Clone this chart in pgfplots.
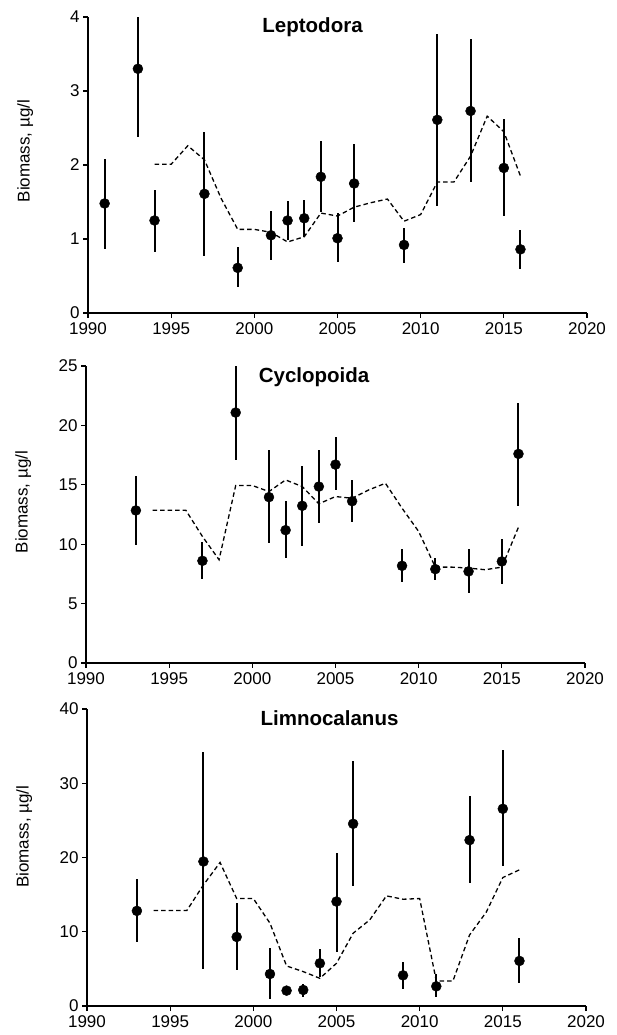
\documentclass[border=0pt]{standalone}
\usepackage{fontspec}
\setmainfont{Liberation Sans}
\usepackage{pgfplots}
\pgfplotsset{compat=1.18}
\usepackage{pgfplotstable}

\pgfplotstableread{
x y ep em
1991 1.48 0.60 0.61
1993 3.30 0.70 0.92
1994 1.25 0.41 0.43
1997 1.61 0.84 0.84
1999 0.61 0.28 0.26
2001 1.05 0.33 0.34
2002 1.25 0.27 0.26
2003 1.28 0.25 0.25
2004 1.84 0.48 0.47
2005 1.01 0.34 0.32
2006 1.75 0.53 0.52
2009 0.92 0.23 0.24
2011 2.61 1.16 1.17
2013 2.73 0.97 0.96
2015 1.96 0.66 0.65
2016 0.86 0.26 0.26
}\leptopts

\pgfplotstableread{
x y
1994 2.01
1995 2.01
1996 2.26
1997 2.07
1998 1.55
1999 1.13
2000 1.13
2001 1.09
2002 0.96
2003 1.03
2004 1.35
2005 1.31
2006 1.43
2007 1.49
2008 1.54
2009 1.24
2010 1.33
2011 1.77
2012 1.77
2013 2.12
2014 2.66
2015 2.45
2016 1.85
}\leptline

\pgfplotstableread{
x y ep em
1993 12.84 2.91 2.89
1997 8.60 1.60 1.54
1999 21.08 3.92 3.98
2001 13.96 3.98 3.90
2002 11.18 2.44 2.35
2003 13.23 3.33 3.34
2004 14.85 3.09 3.08
2005 16.70 2.30 2.18
2006 13.62 1.77 1.76
2009 8.18 1.41 1.40
2011 7.90 0.90 0.95
2013 7.71 1.88 1.82
2015 8.55 1.90 1.94
2016 17.60 4.29 4.37
}\cyclpts

\pgfplotstableread{
x y
1994 12.86
1995 12.86
1996 12.86
1997 10.65
1998 8.69
1999 14.94
2000 14.94
2001 14.43
2002 15.41
2003 14.85
2004 13.40
2005 14.01
2006 13.87
2007 14.57
2008 15.13
2009 13.03
2010 11.07
2011 8.07
2012 8.07
2013 7.99
2014 7.85
2015 8.07
2016 11.43
}\cyclline

\pgfplotstableread{
x y ep em
1993 12.81 4.27 4.18
1997 19.46 14.70 14.52
1999 9.30 4.63 4.45
2001 4.31 3.56 3.41
2002 2.07 0.53 0.57
2003 2.16 0.81 0.90
2004 5.75 1.98 1.79
2005 14.07 6.56 6.74
2006 24.54 8.45 8.32
2009 4.13 1.80 1.84
2011 2.65 1.66 1.48
2013 22.34 5.88 5.80
2015 26.56 7.87 7.77
2016 6.07 3.05 3.01
}\limnpts

\pgfplotstableread{
x y
1994 12.85
1995 12.85
1996 12.85
1997 16.31
1998 19.33
1999 14.47
2000 14.47
2001 11.15
2002 5.39
2003 4.63
2004 3.73
2005 5.75
2006 9.80
2007 11.60
2008 14.83
2009 14.38
2010 14.47
2011 3.37
2012 3.37
2013 9.57
2014 12.63
2015 17.30
2016 18.34
}\limnline

\pgfplotsset{
  panel/.style={
    scale only axis, width=499pt, height=297pt,
    xmin=1990, xmax=2020, xtick={1990,1995,...,2020},
    ymin=0,
    axis lines*=left,
    axis line style={line width=1.3pt, black, -},
    tick align=outside, major tick length=5pt,
    every tick/.style={line width=1.3pt, black},
    /pgf/number format/assume math mode=true,
    /pgf/number format/1000 sep={},
    ticklabel style={font=\fontsize{17}{17}\selectfont},
    xticklabel style={yshift=-1pt},
    ylabel={Biomass, µg/l},
    clip=true,
  },
  ylab/.style={every axis y label/.style={at={(axis description cs:-0.126,#1)}, rotate=90, anchor=center, font=\fontsize{17}{17}\selectfont}},
  pts/.style={only marks, mark=*, mark size=5pt, black,
    mark options={fill=black},
    error bars/.cd, y dir=both, y explicit,
    error bar style={line width=2pt, black},
    error mark=none},
  avg/.style={black, line width=1.3pt, dash pattern=on 4.5pt off 3pt, no marks},
}
\tikzset{ttl/.style={anchor=base, font=\fontsize{20.5}{20.5}\selectfont\bfseries}}

\begin{document}
\begin{tikzpicture}
\path[use as bounding box] (0,0) rectangle (617pt,1035pt);

% Leptodora
\begin{axis}[panel, at={(88pt,722pt)}, anchor=south west,
  ymax=4, ytick={0,1,2,3,4}, height=296pt, ylab=0.547]
\addplot[avg] table[x=x,y=y] {\leptline};
\addplot[pts] table[x=x,y=y,y error plus=ep,y error minus=em] {\leptopts};
\node[ttl] at (rel axis cs:0.45,0.949) {Leptodora};
\end{axis}

% Cyclopoida
\begin{axis}[panel, at={(86pt,372pt)}, anchor=south west,
  ymax=25, ytick={0,5,10,15,20,25}, ylab=0.542]
\addplot[avg] table[x=x,y=y] {\cyclline};
\addplot[pts] table[x=x,y=y,y error plus=ep,y error minus=em] {\cyclpts};
\node[ttl] at (rel axis cs:0.457,0.943) {Cyclopoida};
\end{axis}

% Limnocalanus
\begin{axis}[panel, at={(87pt,29pt)}, anchor=south west,
  ymax=40, ytick={0,10,20,30,40}, ylab=0.57]
\addplot[avg] table[x=x,y=y] {\limnline};
\addplot[pts] table[x=x,y=y,y error plus=ep,y error minus=em] {\limnpts};
\node[ttl] at (rel axis cs:0.486,0.943) {Limnocalanus};
\end{axis}
\end{tikzpicture}
\end{document}
